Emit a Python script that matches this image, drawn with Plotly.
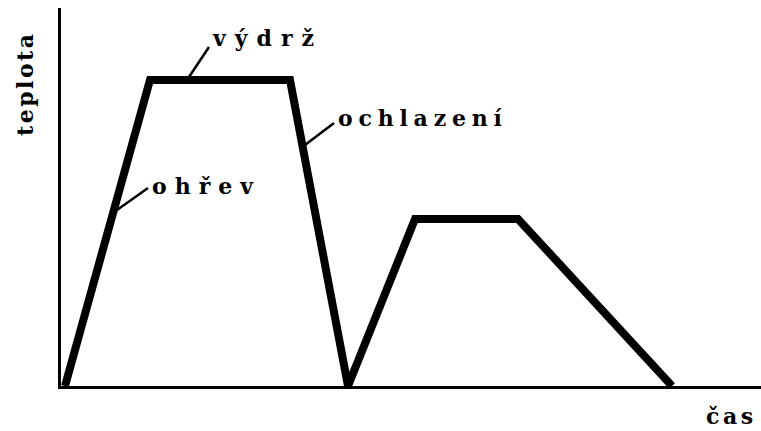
import plotly.graph_objects as go

# Data (arbitrary units: time vs temperature)
time = [4, 89, 229, 287, 354, 457, 611]
temp = [0, 306, 306, 0, 167, 167, 0]

phase_labels = ["výdrž", "ohřev", "ochlazení"]
axis_x_label = "čas"
axis_y_label = "teplota"

FONT = "DejaVu Serif"

fig = go.Figure()
fig.add_trace(go.Scatter(
    x=time, y=temp, mode="lines",
    line=dict(color="black", width=8),
    hoverinfo="skip", showlegend=False,
))

# leader lines (label anchor -> point on curve)
leaders = [
    ((126, 306), (148, 339)),   # výdrž
    ((56, 176), (87, 198)),     # ohřev
    ((244, 241), (273, 263)),   # ochlazení
]
for (x0, y0), (x1, y1) in leaders:
    fig.add_shape(type="line", xref="x", yref="y", x0=x0, y0=y0, x1=x1, y1=y1,
                  line=dict(color="black", width=2.5))

def lab(text, sp):
    return f'<span style="letter-spacing:{sp}px">{text}</span>'

ann_font = dict(family=FONT, size=22, color="black", weight="bold")
fig.add_annotation(x=149, y=348, xref="x", yref="y", text=lab(phase_labels[0], 9),
                   showarrow=False, xanchor="left", yanchor="middle", font=ann_font)
fig.add_annotation(x=89, y=200, xref="x", yref="y", text=lab(phase_labels[1], 8),
                   showarrow=False, xanchor="left", yanchor="middle", font=ann_font)
fig.add_annotation(x=275, y=268, xref="x", yref="y", text=lab(phase_labels[2], 5.8),
                   showarrow=False, xanchor="left", yanchor="middle", font=ann_font)

fig.add_annotation(x=(25 - 61) / 700, y=(386 - 84) / 378, xref="paper", yref="paper",
                   text=lab(axis_y_label, 2.5), textangle=-90, showarrow=False,
                   xanchor="center", yanchor="middle", font=ann_font)
fig.add_annotation(x=(704 - 61) / 700, y=(386 - 416) / 378, xref="paper", yref="paper",
                   text=lab(axis_x_label, 3.5), showarrow=False,
                   xanchor="left", yanchor="middle", font=ann_font)

fig.update_layout(
    width=761, height=431,
    margin=dict(l=61, r=0, t=8, b=45),
    paper_bgcolor="white", plot_bgcolor="white",
    xaxis=dict(range=[0, 700], showline=True, linecolor="black", linewidth=3,
               showgrid=False, zeroline=False, showticklabels=False, ticks=""),
    yaxis=dict(range=[0, 378], showline=True, linecolor="black", linewidth=3,
               showgrid=False, zeroline=False, showticklabels=False, ticks=""),
)

# remove the default page margin so the figure fills the window exactly
fig.write_html("out.html", config={"displayModeBar": False},
               post_script="document.body.style.margin='0';document.body.style.overflow='hidden';")
